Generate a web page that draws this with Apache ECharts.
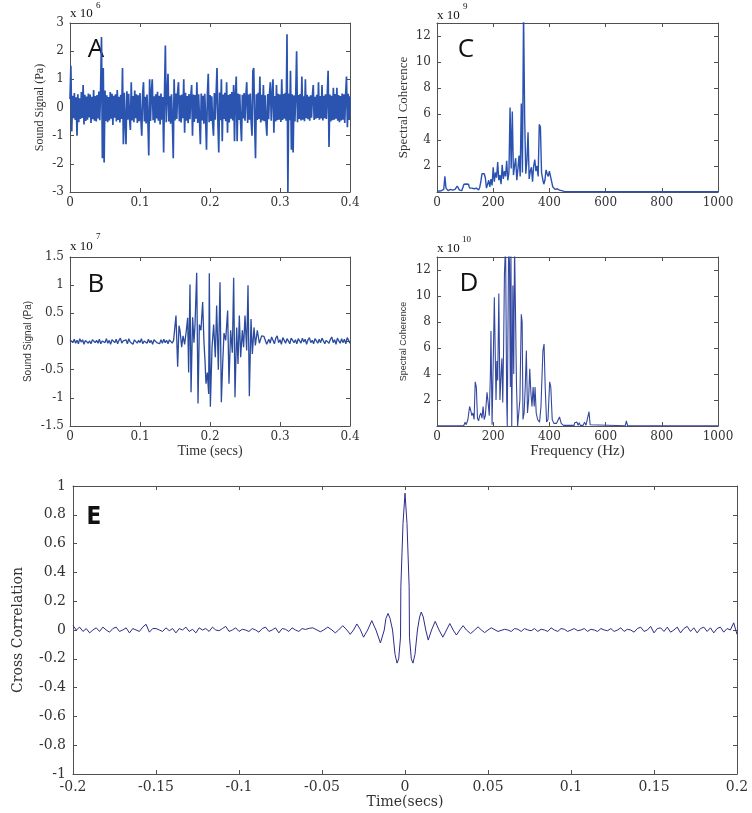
<!DOCTYPE html>
<html><head><meta charset="utf-8">
<script src="https://cdn.jsdelivr.net/npm/echarts@6/dist/echarts.min.js"></script>
<style>html,body{margin:0;padding:0;background:#fff}#c{width:752px;height:813px}</style>
</head><body><div id="c"></div>
<script>
// ---------- Panel A: sound signal (x 10^6 Pa), sample step in seconds ----------
const aStep = 0.00125;
const aSignal = [
.3,1.48,-.85,.42,-.38,.51,-.44,.36,-1.0,.47,-.52,.33,-.41,.55,-.37,.8,-.6,.45,-.48,.39,
-.43,.5,-.35,.46,-.55,.38,-.42,.62,-.47,.41,-.5,.44,-.39,.57,-.45,.7,2.5,-1.8,1.4,-1.95,
.6,-.48,.43,-.52,.37,-.46,.55,-.4,.49,-.62,.42,-.36,.47,-.5,.62,-.44,.38,-.53,.45,-.41,
1.4,-1.3,.52,-.47,-1.3,.58,-.43,.49,-.36,-.8,.9,-.46,.41,-.52,.6,-.38,.47,-.55,.43,-.49,
.51,-.4,-1.0,.45,.9,-.5,.38,-.57,.46,-.42,-1.7,1.0,-.48,.52,1.0,-.45,.4,-.54,.47,-.39,
.56,-.47,.42,-.6,.5,-.43,.37,-1.6,.48,2.2,-.52,.45,1.2,-.5,.4,-.58,.47,-.44,-1.8,1.0,
-.46,.5,-.41,.55,.9,-.49,.43,-.53,.46,-.38,1.0,-.9,.52,-.47,.41,-.56,.48,-.42,.39,.8,
-1.0,.46,-.51,.44,-.4,.9,-.55,.47,-.43,-1.3,.5,-.46,.42,-.58,.49,-.4,-1.5,.45,1.2,-.52,
.44,-.48,.4,-.55,-1.0,.51,-.43,.47,1.4,-.5,-1.6,.53,-.45,1.0,-1.2,.46,-.41,.52,-.49,.9,
-.9,.44,-.53,.48,-.4,.55,-.46,.8,-1.2,.43,1.1,-1.2,.5,-.44,.47,-.52,-1.2,.45,-.39,.51,
-.47,.42,.9,-.55,.46,-.43,.5,-.48,-1.0,1.3,1.4,-.5,-1.8,.47,-.44,.52,-.41,1.1,-.53,.45,
-.46,.8,-.49,.43,-.52,-1.0,.48,-.42,.5,.9,-.47,.44,1.0,-.9,.41,-.5,.8,-.45,.49,-.43,
.46,-.51,1.0,-.44,.48,-.4,.52,-.47,2.6,-3.0,.5,-.45,1.3,-1.5,.47,-1.6,.43,-.5,.46,2.0,
-.52,.44,-.41,.48,-.46,1.1,-.43,.4,-.49,1.0,-.38,.45,-.42,.39,-.47,.43,-.36,.41,.8,-.44,
.38,-.4,.45,-.37,.9,-.43,.41,-.39,.8,-.46,.42,-.38,.47,-.41,.44,1.3,-1.4,.46,-.5,.42,
-.45,.7,-.43,.48,-.4,.7,-.47,.44,-.52,.41,-.46,.5,-.43,.47,-.55,.45,1.1,-.7,.49,-.44,.4
];

// ---------- Panel B: sound signal (x 10^7 Pa) ----------
const bStep = 0.002;
const bPreStart = 0;
const bPre = [
.03,.06,-.02,.04,-.03,.02,-.04,.05,-.01,.03,-.05,.02,.04,-.03,.01,-.04,.03,.05,-.02,.02,
-.03,.04,-.04,.01,.03,-.02,.05,-.03,.02,-.05,.03,.01,-.02,.04,-.04,.02,.06,-.03,.01,-.02,
.03,-.04,.05,-.01,.02,-.05,.03,.04,-.03,.02,-.02,.05,-.04,.01,.03,-.03,.04,-.02,.02,-.05,
.03,.06,-.02,.01,-.04,.03,-.03,.04,-.02,.02,-.04,.03,.01,-.03,.02
];
const bBurstT = [0.150,0.1514,0.1538,0.1557,0.1571,0.1595,0.1615,0.1638,0.1662,0.1681,0.1695,0.1714,0.1729,0.1752,0.1771,0.1786,0.1810,0.1829,0.1848,0.1871,0.1895,0.1914,0.1929,0.1943,0.1962,0.1981,0.1990,0.2005,0.2029,0.2052,0.2076,0.2095,0.2119,0.2143,0.2162,0.2181,0.2200,0.2224,0.2252,0.2271,0.2295,0.2319,0.2338,0.2357,0.2381,0.2400,0.2419,0.2438,0.2462,0.2480,0.2500,0.2524,0.2543,0.2562,0.2586,0.2605,0.2629,0.2648,0.2676,0.2705,0.2738,0.2771,0.2810];
const bBurstV = [.02,.46,-.45,.28,.2,-.1,.1,-.05,.2,.42,-.55,1.01,-.9,.43,-.02,.3,1.22,-1.1,.3,.2,.7,-.02,-.35,-.75,-.55,-.93,1.21,-1.16,-.1,.3,-.28,.64,-.5,1.05,-1.08,-.4,.15,.02,.55,-.75,.2,-.2,1.13,-.99,.25,-.4,.46,-.28,.2,-.1,.46,-.16,1.0,-.97,.4,-.22,.25,-.07,.2,-.03,.1,.09,-.05];
const bPostStart = 0.284;
const bPost = [
.04,-.03,.08,.02,-.04,.06,.1,-.02,.03,-.05,.07,.02,-.03,.05,.01,-.04,.06,.09,-.02,.03,
-.04,.05,.02,-.03,.06,-.01,.04,-.05,.03,.07,-.02,.02,-.04,.05,.01,-.03,.04,-.02,.06,.03,
-.04,.02,.05,-.03,.04,.08,-.02,.03,-.05,.06,.01,-.03,.05,-.02,.04,-.04,.07,.02,-.03
];

// ---------- Panel C: spectral coherence (x 10^9), 4 Hz bins from 0 Hz ----------
const cStep = 4;
const cSpec = [
.05,.1,.08,.15,.1,.12,.2,1.2,.3,.15,.1,.12,.2,.1,.15,.25,.2,.3,.45,.3,
.15,.2,.1,.25,.6,.55,.62,.5,.6,.3,.2,.3,.15,.25,.2,.3,.2,.15,.35,.8,
1.4,1.35,1.4,1.1,.3,.6,.9,.4,1.0,.5,1.9,.8,1.5,1.1,2.3,.9,1.3,.6,2.1,1.0,
1.6,1.2,2.4,.9,1.5,6.5,1.8,6.2,1.3,2.0,2.6,.9,1.8,2.8,1.2,6.8,1.5,14,5.6,1.4,
2.4,4.6,1.0,1.6,1.9,.8,2.0,2.5,1.6,2.0,1.2,5.2,5.0,1.5,1.0,.6,.9,1.7,1.4,1.2,
1.6,1.6,.8,.4,.3,.2,.3,.25,.3,.15,.25,.1,.15,.05,.08,.03
];
const cTailF = [470, 480, 1000];
const cTailV = [.03, .02, .02];

// ---------- Panel D: spectral coherence (x 10^10) ----------
const dFreq = [0,50,55,60,95,100,104,110,116,120,124,128,132,136,140,144,148,152,156,160,164,168,172,178,182,186,190,192,196,198,201,204,207,210,213,216,220,224,228,231,234,237,240,244,248,250,252,255,258,261,263,266,268,270,273,276,280,283,287,292,295,300,303,306,310,314,318,322,326,330,334,338,342,346,349,353,358,365,370,374,377,381,385,390,395,398,401,405,410,416,425,430,436,442,450,470,488,490,494,498,502,506,510,520,525,530,537,541,545,550,670,674,678,1000];
const dVal = [.02,.02,.08,.02,.02,.3,.1,.5,1.5,1.2,.8,1.0,.5,3.4,3.0,.6,.4,.8,1.0,.6,1.5,.5,.8,2.6,1.8,.8,4.0,7.3,.1,0,6,9.9,9.8,2.0,5.0,3.5,10.2,2.0,4.0,5.2,1.8,6,11.7,14,2,0,6,14,12.5,3,14,0,5,10.8,4,14,14,3,0,0,2,8.6,8.0,.5,1,3,5.8,1.0,2,4.4,2.6,1.5,3.0,1.5,3.0,1.0,.5,.3,1.5,4,5.8,6.3,3.0,.3,.5,2.0,3.4,3.0,.5,.2,.2,.3,.7,.2,.05,.05,.05,.25,.1,.3,.05,.25,.05,.05,.3,.05,.1,1.1,.1,.02,.02,.4,.02,.02];

// ---------- Panel E: cross correlation ----------
const eStep = 0.002;
const eLeftStart = -0.2;
const eLeft = [
.03,.0,.02,-.01,.01,-.02,.0,.015,-.01,.02,.0,-.015,.01,.02,-.01,.0,.015,-.02,.01,.0,
-.01,.02,.04,-.015,.01,.01,.0,-.01,.015,-.005,.01,-.02,.01,.0,.02,-.01,.005,-.02,.015,.0,
.01,-.01,.02,.0,-.005,.01,.025,-.01,.0,.015,-.01,.005,.0,-.01,.01,.0,-.015,.01,.02,-.01,
.0,.015,-.02,.01,.005,-.01,.015,.0,-.01,.01
];
const eCenterT = [-0.060,-0.0575,-0.0555,-0.053,-0.051,-0.049,-0.0465,-0.044,-0.042,-0.040,-0.0375,-0.035,-0.033,-0.031,-0.029,-0.027,-0.025,-0.0225,-0.020,-0.0175,-0.0148,-0.0125,-0.0115,-0.0102,-0.009,-0.0075,-0.006,-0.0048,-0.0038,-0.0027,-0.0025,-0.0012,0,0.0012,0.0025,0.0027,0.0038,0.0048,0.006,0.0075,0.0088,0.0098,0.011,0.0125,0.014,0.016,0.0182,0.0205,0.0228,0.025,0.027,0.029,0.031,0.033,0.035,0.037,0.0395,0.042,0.044,0.046,0.048,0.050,0.052,0.056,0.060];
const eCenterV = [.004,.012,.015,.0,-.012,.0,.02,.0,-.02,.0,.03,.0,-.03,.0,.042,.005,-.05,.0,.065,.0,-.09,.0,.08,.115,.08,.0,-.17,-.23,-.2,-.05,.3,.74,.95,.74,.3,-.05,-.2,-.23,-.17,.0,.09,.125,.09,.0,-.07,.0,.06,.0,-.05,.0,.045,.0,-.035,.0,.03,.0,-.025,.0,.022,.0,-.018,.0,.015,-.01,.005];
const eRightStart = 0.062;
const eRight = [
.0,-.01,.01,.005,-.01,.01,.0,-.005,.01,-.01,.005,.0,-.01,.015,.0,-.01,.01,.005,-.01,.0,
.01,-.005,.0,.01,-.01,.005,.0,-.01,.01,.0,-.005,.01,-.01,.0,.015,-.01,.005,.0,-.015,.01,
.02,-.01,.0,.025,-.02,.01,.015,-.01,.02,-.015,.0,.02,-.02,.01,.025,-.01,.015,-.02,.01,.02,
-.01,.015,-.02,.01,.02,-.015,.01,.0,.05,-.03
];

// ---------- build series data ----------
const r = v => Math.round(v * 1e6) / 1e6;
const seq = (start, step, vals) => vals.map((v, i) => [r(start + i * step), v]);
const zip = (xs, ys) => xs.map((x, i) => [x, ys[i]]);
const dataA = seq(0, aStep, aSignal);
const dataB = seq(bPreStart, bStep, bPre).concat(zip(bBurstT, bBurstV), seq(bPostStart, bStep, bPost));
const dataC = seq(0, cStep, cSpec).concat(zip(cTailF, cTailV));
const dataD = zip(dFreq, dVal);
const dataE = seq(eLeftStart, eStep, eLeft).concat(zip(eCenterT, eCenterV), seq(eRightStart, eStep, eRight));

const AX = '#505050';
const LBL = '#333';
const SERIF = 'DejaVu Serif';
const plainFmt = v => String(v);
function xPair(g, min, max, interval, fs, margin, name, gap, nameFont, nameFs) {
  return [
    { type: 'value', gridIndex: g, position: 'bottom', min, max, interval,
      axisLine: { onZero: false, lineStyle: { color: AX } },
      axisTick: { inside: true, length: 4, lineStyle: { color: AX } },
      splitLine: { show: false },
      axisLabel: { color: LBL, fontFamily: SERIF, fontSize: fs, margin, formatter: plainFmt },
      name: name || '', nameLocation: 'middle', nameGap: gap || 0,
      nameTextStyle: { fontFamily: nameFont, fontSize: nameFs, color: LBL } },
    { type: 'value', gridIndex: g, position: 'top', min, max, interval,
      axisLine: { onZero: false, lineStyle: { color: AX } },
      axisTick: { inside: true, length: 4, lineStyle: { color: AX } },
      splitLine: { show: false }, axisLabel: { show: false } }
  ];
}
function yPair(g, min, max, interval, fs, margin, name, gap, nameFont, nameFs, fmt) {
  return [
    { type: 'value', gridIndex: g, position: 'left', min, max, interval,
      axisLine: { onZero: false, lineStyle: { color: AX } },
      axisTick: { inside: true, length: 4, lineStyle: { color: AX } },
      splitLine: { show: false },
      axisLabel: { color: LBL, fontFamily: SERIF, fontSize: fs, margin, formatter: fmt || plainFmt },
      name, nameLocation: 'middle', nameGap: gap,
      nameTextStyle: { fontFamily: nameFont, fontSize: nameFs, color: LBL } },
    { type: 'value', gridIndex: g, position: 'right', min, max, interval,
      axisLine: { onZero: false, lineStyle: { color: AX } },
      axisTick: { inside: true, length: 4, lineStyle: { color: AX } },
      splitLine: { show: false }, axisLabel: { show: false } }
  ];
}
const specFmt = v => (v === 0 || v % 2 !== 0) ? '' : String(v);

function line(g, data, color, width) {
  return { type: 'line', xAxisIndex: 2 * g, yAxisIndex: 2 * g, data, showSymbol: false,
    symbol: 'none', clip: true, silent: true,
    lineStyle: { color, width: width || 1 } };
}
function txt(x, y, text, font, align) {
  return { type: 'text', x, y, silent: true,
    style: { text, font, fill: '#111', textAlign: align || 'center', textVerticalAlign: 'middle' } };
}

const option = {
  animation: false,
  backgroundColor: '#fff',
  grid: [
    { left: 70, top: 23, width: 280, height: 169 },
    { left: 70, top: 257, width: 280, height: 169 },
    { left: 437, top: 23, width: 281, height: 169 },
    { left: 437, top: 257, width: 281, height: 169 },
    { left: 73, top: 486, width: 664, height: 288 }
  ],
  xAxis: [].concat(
    xPair(0, 0, 0.4, 0.1, 12, 5),
    xPair(1, 0, 0.4, 0.1, 12, 5, 'Time (secs)', 17, 'Liberation Serif', 14),
    xPair(2, 0, 1000, 200, 12, 5),
    xPair(3, 0, 1000, 200, 12, 5, 'Frequency (Hz)', 17, 'Liberation Serif', 15),
    xPair(4, -0.2, 0.2, 0.05, 14, 6, 'Time(secs)', 19, SERIF, 14)
  ),
  yAxis: [].concat(
    yPair(0, -3, 3, 1, 12, 6, 'Sound Signal (Pa)', 24, 'Liberation Serif', 12),
    yPair(1, -1.5, 1.5, 0.5, 12, 6, 'Sound Signal (Pa)', 37, 'Liberation Sans', 10),
    yPair(2, 0, 13, 2, 12, 6, 'Spectral Coherence', 27, 'Liberation Serif', 13, specFmt),
    yPair(3, 0, 13, 2, 12, 6, 'Spectral Coherence', 29, 'Liberation Sans', 9, specFmt),
    yPair(4, -1, 1, 0.2, 14, 7, 'Cross Correlation', 48, SERIF, 14)
  ),
  series: [
    line(0, dataA, '#2a54b0', 1.7),
    line(1, dataB, '#2a4b9e', 1.3),
    line(2, dataC, '#2b52b0', 1.4),
    line(3, dataD, '#3448a0', 1.1),
    line(4, dataE, '#2c2c8c', 1)
  ],
  graphic: [
    txt(96, 50, 'A', '26px "Open Sans"'),
    txt(96, 285, 'B', '26px "Open Sans"'),
    txt(466, 50, 'C', '26px "Open Sans"'),
    txt(469, 284, 'D', '26px "Open Sans"'),
    txt(94, 518, 'E', 'bold 24px "DejaVu Sans Condensed", "DejaVu Sans"'),
    txt(70, 14, 'x 10', '13px "Liberation Serif"', 'left'),
    txt(96, 6, '6', '9px "Liberation Serif"', 'left'),
    txt(70, 247, 'x 10', '13px "Liberation Serif"', 'left'),
    txt(96, 237, '7', '9px "Liberation Serif"', 'left'),
    txt(437, 16, 'x 10', '13px "Liberation Serif"', 'left'),
    txt(463, 7, '9', '9px "Liberation Serif"', 'left'),
    txt(437, 249, 'x 10', '13px "Liberation Serif"', 'left'),
    txt(462, 240, '10', '9px "Liberation Serif"', 'left')
  ]
};
const chart = echarts.init(document.getElementById('c'), null, { renderer: 'canvas' });
chart.setOption(option);
</script>
</body></html>
